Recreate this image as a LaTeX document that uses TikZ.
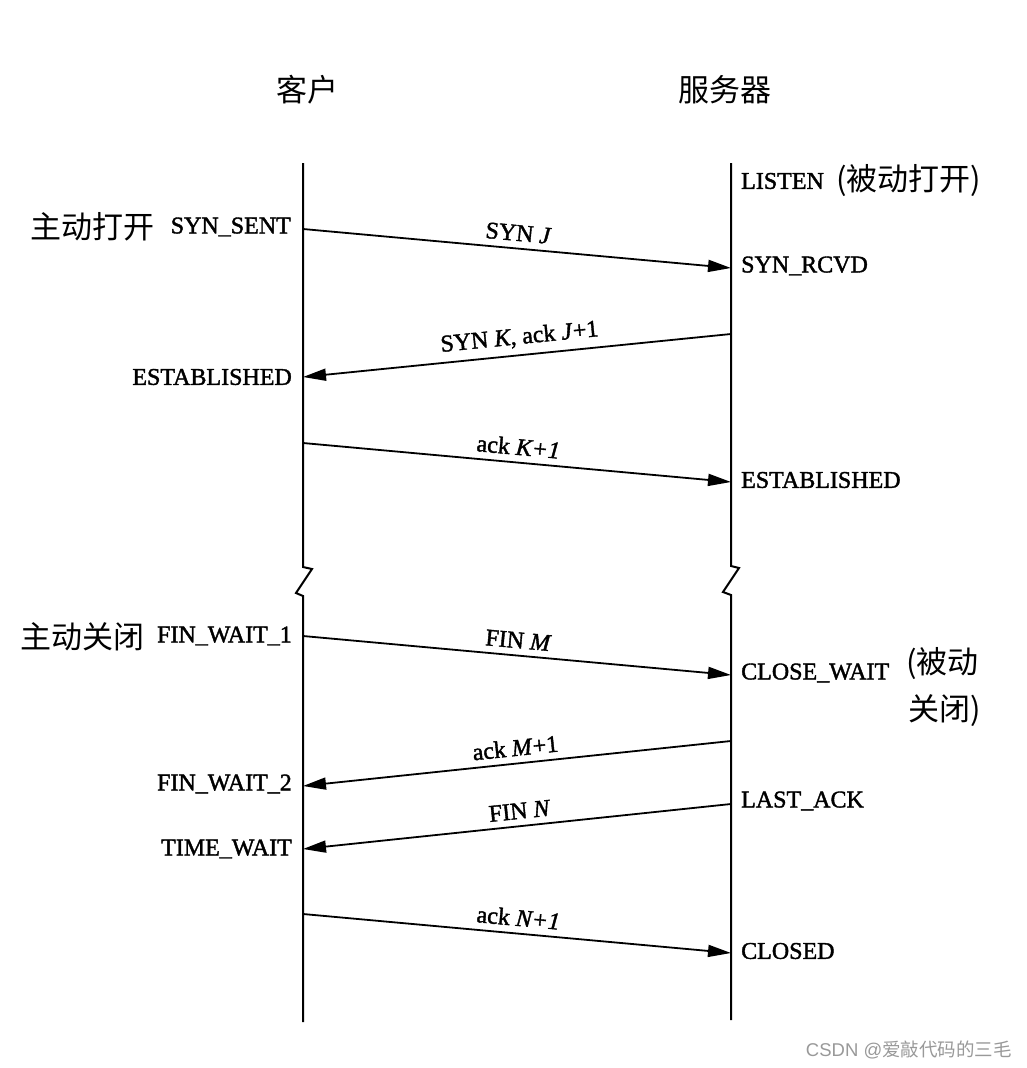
\documentclass[tikz,border=0pt]{standalone}
\usepackage{fontspec}
\setmainfont{Liberation Serif}[FakeBold=1.6]
\newfontfamily\cjk{Noto Sans CJK SC}
\newfontfamily\wmfont{Liberation Sans}
\usetikzlibrary{arrows.meta}
\begin{document}
\begin{tikzpicture}[x=1pt,y=-1pt,
  life/.style={line width=2pt},
  msg/.style={line width=1.8pt,-{Triangle[length=23pt,width=12pt]}},
  lbl/.style={font=\fontsize{24}{28}\selectfont,sloped,above,inner sep=6.5pt},
  lstate/.style={font=\fontsize{24}{28}\selectfont,anchor=east,inner sep=0pt},
  rstate/.style={font=\fontsize{24}{28}\selectfont,anchor=west,inner sep=0pt},
  cjkt/.style={font=\cjk\fontsize{31}{36}\selectfont,inner sep=0pt},
]
\useasboundingbox (0,0) rectangle (1027,1068);
% headers
\node[cjkt] (hc) at (307,90) {客户};
\node[cjkt] (hs) at (725,90) {服务器};
% lifelines with break
\coordinate (ctop) at (303,163);
\coordinate (cbot) at (303,1022);
\coordinate (stop) at (731,163);
\coordinate (sbot) at (731,1020);
\draw[life,line join=miter] (ctop) -- (303,567) -- (312,569) -- (296,593) -- (303,596) -- (cbot);
\draw[life,line join=miter] (stop) -- (731,566) -- (739,568) -- (723,592) -- (731,595) -- (sbot);
% message end points
\coordinate (c1) at (303,229); \coordinate (s1) at (731,268);
\coordinate (s2) at (731,334); \coordinate (c2) at (303,377);
\coordinate (c3) at (303,443); \coordinate (s3) at (731,482);
\coordinate (c4) at (303,636); \coordinate (s4) at (731,675);
\coordinate (s5) at (731,741); \coordinate (c5) at (303,786);
\coordinate (s6) at (731,804); \coordinate (c6) at (303,849);
\coordinate (c7) at (303,914); \coordinate (s7) at (731,953);
% messages
\draw[msg] (c1) -- (s1) node[lbl,pos=0.5] (m1) {SYN \textit{J}};
\draw[msg] (s2) -- (c2) node[lbl,pos=0.49] (m2) {SYN \textit{K}, ack \textit{J}+1};
\draw[msg] (c3) -- (s3) node[lbl,pos=0.5] (m3) {ack \textit{K+1}};
\draw[msg] (c4) -- (s4) node[lbl,pos=0.5] (m4) {FIN \textit{M}};
\draw[msg] (s5) -- (c5) node[lbl,pos=0.5] (m5) {ack \textit{M}+1};
\draw[msg] (s6) -- (c6) node[lbl,pos=0.49] (m6) {FIN \textit{N}};
\draw[msg] (c7) -- (s7) node[lbl,pos=0.5] (m7) {ack \textit{N+1}};
% client states
\node[lstate] (cs1) at (291,227) {SYN\_SENT};
\node[lstate] (cs2) at (292,377) {ESTABLISHED};
\node[lstate] (cs3) at (292,636) {FIN\_WAIT\_1};
\node[lstate] (cs4) at (292,784) {FIN\_WAIT\_2};
\node[lstate] (cs5) at (292,849) {TIME\_WAIT};
\node[cjkt,anchor=east] (ao) at (155,227) {主动打开};
\node[cjkt,anchor=east] (ac) at (145,637) {主动关闭};
% server states
\node[rstate] (ss0) at (741,181) {LISTEN};
\node[cjkt,anchor=west] (po) at (836,181) {(被动打开)};
\node[rstate] (ss1) at (741,266) {SYN\_RCVD};
\node[rstate] (ss2) at (741,480) {ESTABLISHED};
\node[rstate] (ss3) at (741,673) {CLOSE\_WAIT};
\node[cjkt,anchor=west] (pc1) at (906,664) {(被动};
\node[cjkt,anchor=west] (pc2) at (908,711) {关闭)};
\node[rstate] (ss4) at (741,801) {LAST\_ACK};
\node[rstate] (ss5) at (741,951) {CLOSED};
% watermark
\node[anchor=east,inner sep=0pt,text=black!40,font=\fontsize{18.5}{22}\selectfont] (wm) at (1012,1050) {\wmfont CSDN @\cjk 爱敲代码的三毛};
\end{tikzpicture}
\end{document}
